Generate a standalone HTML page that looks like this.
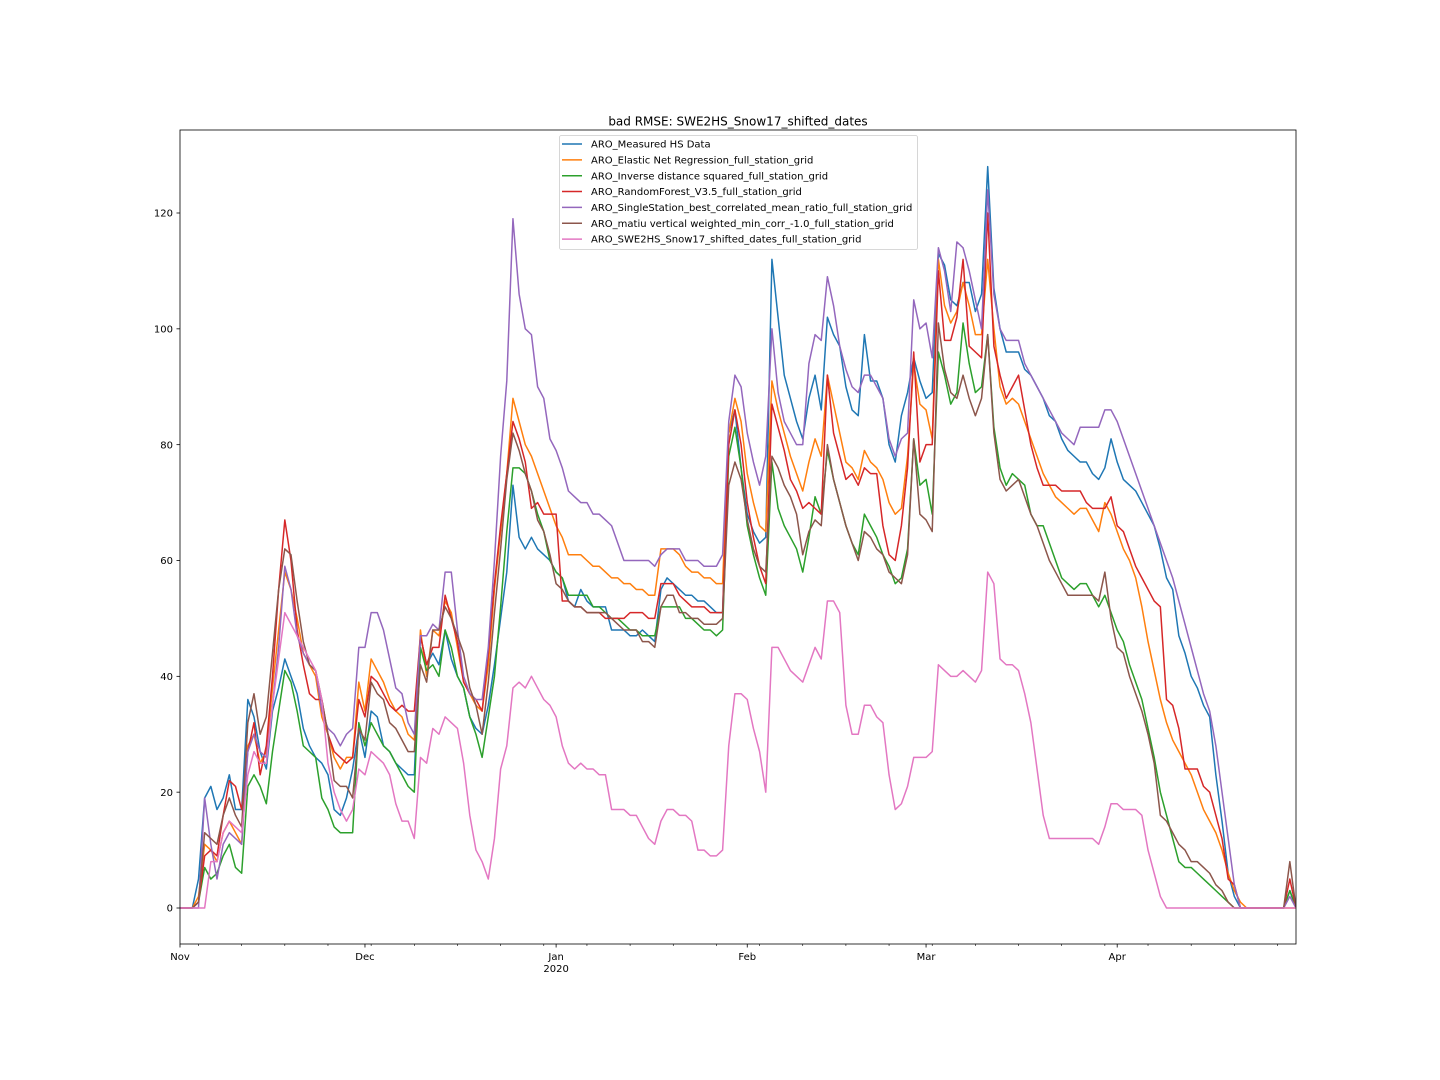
<!DOCTYPE html>
<html>
<head>
<meta charset="utf-8">
<style>
html,body{margin:0;padding:0;background:#fff;}
svg{display:block;font-family:"DejaVu Sans","Liberation Sans",sans-serif;}
</style>
</head>
<body>
<svg id="chart" width="1440" height="1080" viewBox="0 0 1440 1080" xmlns="http://www.w3.org/2000/svg">
<rect x="0" y="0" width="1440" height="1080" fill="#fff"/>
<text x="738" y="125.5" font-size="12" text-anchor="middle" fill="#000">bad RMSE: SWE2HS_Snow17_shifted_dates</text>
<g id="grid-ticks"></g>
<g id="series" clip-path="url(#clip)"></g>
<defs><clipPath id="clip"><rect x="180" y="130" width="1116" height="814"/></clipPath></defs>
<rect x="180" y="130" width="1116" height="814" fill="none" stroke="#000" stroke-width="0.8"/>
<g id="legend"></g>
</svg>
<script>
const seriesNames = ["ARO_Measured HS Data","ARO_Elastic Net Regression_full_station_grid","ARO_Inverse distance squared_full_station_grid","ARO_RandomForest_V3.5_full_station_grid","ARO_SingleStation_best_correlated_mean_ratio_full_station_grid","ARO_matiu vertical weighted_min_corr_-1.0_full_station_grid","ARO_SWE2HS_Snow17_shifted_dates_full_station_grid"];
const seriesColors = ["#1f77b4","#ff7f0e","#2ca02c","#d62728","#9467bd","#8c564b","#e377c2"];
const monthLabels = ["Nov","Dec","Jan","Feb","Mar","Apr"];
const monthDays = [0,30,61,92,121,152];
const yTicks = [0,20,40,60,80,100,120];
const measured = [0,0,0,5,19,21,17,19,23,17, 17,36,33,27,24,34,38,43,40,37, 31,28,26,25,23,17,16,19,24,31, 26,34,33,28,27,25,24,23,23,47, 42,44,42,48,43,40,38,33,31,30, 35,42,50,58,73,64,62,64,62,61, 60,58,57,53,52,55,53,52,52,52, 48,48,48,47,47,48,47,46,55,57, 56,55,54,54,53,53,52,51,51,82, 86,76,68,65,63,64,112,102,92,88, 84,81,88,92,86,102,99,97,90,86, 85,99,91,91,88,80,77,85,89,95, 91,88,89,113,111,105,104,108,108,103, 106,128,107,100,96,96,96,93,92,90, 88,85,84,81,79,78,77,77,75,74, 76,81,77,74,73,72,70,68,66,62, 57,55,47,44,40,38,35,33,23,15, 6,2,0,0,0,0,0,0,0,0, 3,0];
const elasticNet = [0,0,0,2,11,10,8,13,15,13, 11,28,30,25,27,38,48,58,55,50, 44,42,40,33,30,26,24,26,26,39, 34,43,41,39,36,34,33,30,29,48, 40,48,47,53,51,45,39,37,35,34, 42,55,65,75,88,84,80,78,75,72, 69,66,64,61,61,61,60,59,59,58, 57,57,56,56,55,55,54,54,62,62, 62,61,59,58,58,57,57,56,56,82, 88,84,75,70,66,65,91,86,82,78, 75,72,77,81,78,92,87,82,77,76, 74,79,77,76,74,70,68,69,78,94, 87,86,81,112,104,101,103,108,104,99, 99,112,100,90,87,88,87,84,81,78, 75,73,71,70,69,68,69,69,67,65, 70,68,65,62,60,57,52,46,41,36, 32,29,27,25,23,20,17,15,13,10, 6,3,1,0,0,0,0,0,0,0, 0,0];
const idw = [0,0,0,1,7,5,6,9,11,7, 6,21,23,21,18,27,34,41,39,34, 28,27,26,19,17,14,13,13,13,32, 28,32,30,28,27,25,23,21,20,45, 41,42,40,48,45,40,38,33,30,26, 33,40,52,65,76,76,75,72,68,65, 60,58,57,54,54,54,54,52,52,51, 50,50,49,48,48,47,47,47,52,52, 52,52,50,50,49,48,48,47,48,78, 83,76,66,61,57,54,77,69,66,64, 62,58,64,71,68,79,74,70,66,63, 61,68,66,64,61,59,56,57,62,81, 73,74,68,96,92,87,89,101,94,89, 90,99,83,76,73,75,74,73,68,66, 66,63,60,57,56,55,56,56,54,52, 54,51,48,46,42,39,36,31,26,20, 16,12,8,7,7,6,5,4,3,2, 1,0,0,0,0,0,0,0,0,0, 3,0];
const randomForest = [0,0,0,1,9,10,9,16,22,21, 17,27,32,23,28,40,55,67,60,48, 42,37,36,36,30,27,26,25,26,36, 33,40,39,37,35,34,35,34,34,47, 42,45,45,54,50,46,39,37,36,34, 44,56,66,75,84,81,77,69,70,68, 68,68,53,53,52,52,51,51,51,50, 50,50,50,51,51,51,50,50,56,56, 56,54,53,52,52,52,51,51,51,80, 86,80,70,64,59,56,87,83,79,74, 72,69,70,69,68,92,82,78,74,75, 73,76,75,75,66,61,60,66,76,96, 77,80,80,110,98,98,102,112,97,96, 95,120,97,92,88,90,92,86,80,76, 73,73,73,72,72,72,72,70,69,69, 69,71,66,65,62,59,57,55,53,52, 36,35,31,24,24,24,21,20,16,12, 5,4,0,0,0,0,0,0,0,0, 5,0];
const singleStation = [0,0,0,0,19,11,5,11,13,12, 11,27,30,27,26,35,45,59,55,47, 44,42,41,34,31,30,28,30,31,45, 45,51,51,48,43,38,37,32,30,47, 47,49,48,58,58,48,40,37,36,36, 45,60,78,91,119,106,100,99,90,88, 81,79,76,72,71,70,70,68,68,67, 66,63,60,60,60,60,60,59,61,62, 62,62,60,60,60,59,59,59,61,84, 92,90,82,77,73,78,100,89,84,82, 80,80,94,99,98,109,104,97,93,90, 89,92,92,90,88,81,78,81,82,105, 100,101,95,114,110,103,115,114,110,105, 100,124,106,100,98,98,98,94,92,90, 88,86,84,82,81,80,83,83,83,83, 86,86,84,81,78,75,72,69,66,63, 60,57,53,49,45,41,37,34,28,20, 12,4,0,0,0,0,0,0,0,0, 2,0];
const matiu = [0,0,0,1,13,12,11,16,19,16, 14,32,37,30,33,44,55,62,61,53, 46,42,41,36,30,22,21,21,19,31, 29,39,37,36,32,31,29,27,27,42, 39,48,48,52,50,47,44,38,35,30, 39,51,62,74,82,79,75,72,67,65, 61,56,55,53,52,52,51,51,51,51, 50,49,48,48,48,46,46,45,52,54, 54,51,51,50,50,49,49,49,50,73, 77,74,67,62,59,58,78,76,73,71, 68,61,65,67,66,80,74,70,66,63, 60,65,64,62,61,58,57,56,61,81, 68,67,65,101,93,89,88,92,88,85, 88,99,82,74,72,73,74,71,68,66, 63,60,58,56,54,54,54,54,54,53, 58,50,45,44,40,37,34,30,25,16, 15,13,11,10,8,8,7,6,4,3, 1,0,0,0,0,0,0,0,0,0, 8,0];
const swe2hs = [0,0,0,0,0,8,8,13,15,14, 13,23,27,25,25,35,43,51,49,47, 45,43,41,36,25,20,17,15,17,24, 23,27,26,25,23,18,15,15,12,26, 25,31,30,33,32,31,25,16,10,8, 5,12,24,28,38,39,38,40,38,36, 35,33,28,25,24,25,24,24,23,23, 17,17,17,16,16,14,12,11,15,17, 17,16,16,15,10,10,9,9,10,28, 37,37,36,31,27,20,45,45,43,41, 40,39,42,45,43,53,53,51,35,30, 30,35,35,33,32,23,17,18,21,26, 26,26,27,42,41,40,40,41,40,39, 41,58,56,43,42,42,41,37,32,24, 16,12,12,12,12,12,12,12,12,11, 14,18,18,17,17,17,16,10,6,2, 0,0,0,0,0,0,0,0,0,0, 0,0,0,0,0,0,0,0,0,0, 0,0];
const allSeries = [measured, elasticNet, idw, randomForest, singleStation, matiu, swe2hs];

const NS = "http://www.w3.org/2000/svg";
const X0 = 180, X1 = 1296, Y0 = 908, PXU = (908 - 213) / 120, NDAYS = 181;
function xScale(d){ return X0 + d * (X1 - X0) / NDAYS; }
function yScale(v){ return Y0 - v * PXU; }
function mk(tag, attrs){ const e = document.createElementNS(NS, tag); for (const k in attrs) e.setAttribute(k, attrs[k]); return e; }

const gt = document.getElementById('grid-ticks');
// y ticks
yTicks.forEach(v => {
  const y = yScale(v);
  const t = mk('line', {x1: 176.5, x2: 180, y1: y, y2: y, stroke: '#000', 'stroke-width': 0.8});
  
  
  gt.appendChild(t);
  const l = mk('text', {x: 173, y: y + 3.6, 'font-size': 10, 'text-anchor': 'end', fill: '#000'});
  l.textContent = String(v);
  
  
  gt.appendChild(l);
});
// minor weekly ticks
for (let d = 3; d <= NDAYS; d += 7) {
  if (monthDays.indexOf(d) >= 0) continue;
  const x = xScale(d);
  const t = mk('line', {x1: x, x2: x, y1: 944, y2: 946, stroke: '#000', 'stroke-width': 0.6});
  
  
  gt.appendChild(t);
}
// major month ticks
monthDays.forEach((d, i) => {
  const x = xScale(d);
  const t = mk('line', {x1: x, x2: x, y1: 944, y2: 947.5, stroke: '#000', 'stroke-width': 0.8});
  
  
  gt.appendChild(t);
  const l = mk('text', {x: x, y: 960, 'font-size': 10, 'text-anchor': 'middle', fill: '#000'});
  l.textContent = monthLabels[i];
  
  
  gt.appendChild(l);
  if (monthLabels[i] === 'Jan') {
    const yl = mk('text', {x: x, y: 972, 'font-size': 10, 'text-anchor': 'middle', fill: '#000'});
    yl.textContent = '2020';
    
    
    gt.appendChild(yl);
  }
});

// series
const gs = document.getElementById('series');
allSeries.forEach((arr, si) => {
  const pts = arr.map((v, d) => xScale(d).toFixed(2) + ',' + yScale(v).toFixed(2)).join(' ');
  const p = mk('polyline', {points: pts, fill: 'none', stroke: seriesColors[si], 'stroke-width': 1.5, 'stroke-linejoin': 'round'});
  
  
  gs.appendChild(p);
});

// legend
const gl = document.getElementById('legend');
const box = mk('rect', {x: 559.5, y: 135.5, width: 358, height: 114, rx: 2, fill: '#fff', 'fill-opacity': 0.8, stroke: '#ccc', 'stroke-width': 0.8});


gl.appendChild(box);
seriesNames.forEach((n, i) => {
  const y = 144 + i * 15.85;
  const ln = mk('line', {x1: 562, x2: 582, y1: y, y2: y, stroke: seriesColors[i], 'stroke-width': 1.5});
  
  
  gl.appendChild(ln);
  const t = mk('text', {x: 591, y: y + 3.6, 'font-size': 10, fill: '#000'});
  t.textContent = n;
  
  
  gl.appendChild(t);
});
</script>
</body>
</html>
